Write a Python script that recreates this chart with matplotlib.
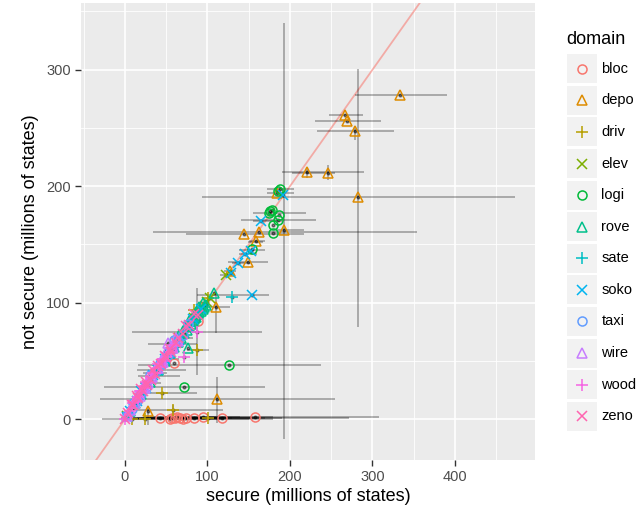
import matplotlib
matplotlib.use("Agg")
import matplotlib.pyplot as plt
from matplotlib.patches import Rectangle

plt.rcParams['font.family'] = ['Liberation Sans', 'DejaVu Sans']

# domain order as in the legend
domains = ['bloc', 'depo', 'driv', 'elev', 'logi', 'rove',
           'sate', 'soko', 'taxi', 'wire', 'wood', 'zeno']

# secure / not secure, millions of states
sec = {}
nsec = {}
sec['bloc'] = [42, 54, 57, 61, 63, 67, 70, 74, 84, 95, 118, 158, 60, 89]
nsec['bloc'] = [1, 0.5, 1, 1, 1.5, 1, 0.5, 1, 1, 2, 1, 2, 48, 84]
sec['depo'] = [333, 267, 269.5, 278.4, 220.6, 246.5, 282, 144.6, 162, 193,
               158.8, 149.5, 183.8, 127, 110, 111, 28.3, 92]
nsec['depo'] = [278, 261, 256.3, 247.7, 212, 211, 190.5, 158.8, 160.5, 162.5,
                153.3, 135.3, 194.5, 127.6, 96.7, 17.4, 7.4, 97]
sec['driv'] = [87, 44.4, 58.6, 24, 101, 8, 101, 33, 84]
nsec['driv'] = [59.5, 22.3, 8, 0.5, 0.9, 0.5, 104.4, 36, 94]
sec['elev'] = [123, 100, 103, 3, 40, 84, 66]
nsec['elev'] = [124, 101, 104, 3, 42, 87, 70]
sec['logi'] = [188, 176, 174, 178, 186.7, 185.9, 179, 179, 153.5, 126, 71.5, 186]
nsec['logi'] = [197.7, 179, 177, 180, 175, 170.8, 166.8, 159.7, 146, 46.6, 27.7, 196]
sec['rove'] = [107.9, 76.8, 98, 96, 94, 92, 90, 88, 86, 84, 82, 80, 78, 75,
               72, 68, 64, 60, 55, 48, 40, 30, 20, 12, 6,
               62, 66, 70, 74, 78, 82, 86, 90, 94, 58, 50, 45]
nsec['rove'] = [108.1, 61, 98, 96, 95, 93, 92, 90, 88, 86, 84, 82, 80, 77,
                74, 70, 66, 62, 57, 50, 42, 32, 22, 14, 7,
                66, 72, 76, 80, 84, 88, 92, 96, 100, 62, 56, 50]
sec['sate'] = [129.3, 4, 14, 62, 82]
nsec['sate'] = [105.2, 5, 15, 64, 84]
sec['soko'] = [191, 164.8, 152.4, 145.5, 137.4, 128, 153.5, 2, 6, 15, 25,
               40, 55, 66, 76, 92, 20, 34, 48, 62, 82]
nsec['soko'] = [192.5, 170, 144.7, 141.9, 133.9, 125.3, 106.7, 2, 7, 16, 27,
                42, 57, 68, 79, 95, 24, 38, 52, 66, 86]
sec['taxi'] = [3, 8, 14, 20, 26, 32, 38, 45, 52, 58, 64, 70,
               10, 18, 30, 42, 60, 76]
nsec['taxi'] = [4, 9, 16, 22, 28, 35, 41, 47, 55, 60, 67, 72,
                14, 22, 38, 48, 68, 82]
sec['wire'] = [2, 6, 12, 18, 24, 28, 33, 40, 46, 51.7, 58, 64,
               14, 22, 30, 38, 44, 50, 56, 62]
nsec['wire'] = [3, 8, 14, 20, 27, 31, 36, 44, 49, 65.2, 61, 67,
                20, 28, 36, 44, 50, 58, 62, 70]
sec['wood'] = [0, 6, 12, 16, 20, 24, 28, 32, 36, 42, 48, 71.5, 87, 56, 62,
               10, 18, 26, 34, 40, 46, 52, 58]
nsec['wood'] = [0, 7, 15, 19, 24, 27, 31, 36, 40, 45, 50, 53.2, 75.2, 58, 64,
                14, 24, 32, 40, 47, 52, 56, 64]
sec['zeno'] = [0, 4, 10, 16, 22, 27, 31, 36, 44, 50, 56, 62, 70, 78, 88.9,
               8, 14, 20, 26, 34, 40, 48, 54, 64, 74, 84]
nsec['zeno'] = [0, 5, 12, 18, 24, 29, 34, 39, 47, 53, 58, 65, 73, 81, 89.5,
                12, 20, 26, 32, 42, 46, 54, 60, 70, 80, 90]

# horizontal error bars: not-secure value, secure low, secure high
hbar_y = [278, 190.5, 261, 256.3, 247.7, 212, 211, 158.8, 160.5, 162.5,
          153.3, 135.3, 194.5, 197.7, 176.8, 171, 170, 145.3, 152.5, 106.7,
          96.7, 17.4, 46.6, 27.7, 75.2, 64.4, 59.5, 42.3, 40, 37, 22.3, 8,
          127, 124, 141.9, 133.9, 31, 52, 70, 88,
          1, 0.5, 1, 1, 1.5, 1, 0.5, 1, 1, 2, 1, 2, 0, 0.5, 1, 1.5]
hbar_lo = [279, 93, 247.6, 230, 233, 190, 203, 74, 34, 183,
           150, 125, 172, 172, 155, 141, 155, 138.6, 149, 87,
           88, -30, 16, -26, 8, 28, 74.7, 14, 22, 16, 22, 10,
           120, 115, 138, 130, 18, 40, 60, 78,
           -5, 5, 20, 10, 30, -3, 40, 30, 60, 50, 80, 100, -28, 0, 15, 25]
hbar_hi = [390, 473, 289, 310, 326, 290, 254, 217, 354, 217,
           170, 173, 205, 205, 220, 231, 190, 170, 167, 175,
           127, 254.5, 238, 170, 166, 87, 102, 74, 51, 67, 87, 119,
           135, 132, 160, 152, 44, 66, 82, 96,
           100, 120, 90, 130, 110, 160, 150, 120, 190, 180, 272, 308, 60, 180, 170, 140]

# vertical error bars: secure value, not-secure low, not-secure high
vbar_x = [193, 282, 278.4, 246.5, 220.6, 110, 111, 87, 28.3, 58.6]
vbar_lo = [-17, 79.5, 240, 205, 207, 74, -3.4, 38, -5, 0]
vbar_hi = [340, 300.7, 252, 218, 216, 108, 36.6, 112.5, 11, 12]

colors = ['#F8766D', '#DE8C00', '#B79F00', '#7CAE00', '#00BA38', '#00C08B',
          '#00BFC4', '#00B4F0', '#619CFF', '#C77CFF', '#F564E3', '#FF64B0']
markers = ['o', '^', '+', 'x'] * 3
msizes = {'o': 6.5, '^': 7.5, '+': 8.5, 'x': 6.5}

W, H = 641, 516
fig = plt.figure(figsize=(W / 100, H / 100), dpi=100)
ax = fig.add_axes([80.7 / W, 1 - 460 / H, (535 - 80.7) / W, (460 - 3.3) / H])
ax.set_facecolor('#EBEBEB')

xlim = (-53.7, 497)
ylim = (-35, 357)
ax.set_xlim(xlim)
ax.set_ylim(ylim)

# ggplot style grid
for v in [-50, 50, 150, 250, 350, 450]:
    ax.axvline(v, color='white', lw=0.6, zorder=0)
for v in [50, 150, 250, 350]:
    ax.axhline(v, color='white', lw=0.6, zorder=0)
for v in [0, 100, 200, 300, 400]:
    ax.axvline(v, color='white', lw=1.2, zorder=0)
for v in [0, 100, 200, 300]:
    ax.axhline(v, color='white', lw=1.2, zorder=0)

# y = x reference
ax.plot([-100, 600], [-100, 600], color='#F8766D', alpha=0.55, lw=1.3, zorder=1)

ax.hlines(hbar_y, hbar_lo, hbar_hi, color='black', alpha=0.3, lw=1.3, zorder=2)
ax.vlines(vbar_x, vbar_lo, vbar_hi, color='black', alpha=0.3, lw=1.3, zorder=2)

for d, c, m in zip(domains, colors, markers):
    ax.plot(sec[d], nsec[d], linestyle='none', marker='o', ms=2,
            color='black', alpha=0.45, zorder=3)
    if m in ('o', '^'):
        ax.plot(sec[d], nsec[d], linestyle='none', marker=m, ms=msizes[m],
                mfc='none', mec=c, mew=1.1, zorder=4)
    else:
        ax.plot(sec[d], nsec[d], linestyle='none', marker=m, ms=msizes[m],
                color=c, mew=1.1, zorder=4)

ax.set_xticks([0, 100, 200, 300, 400])
ax.set_yticks([0, 100, 200, 300])
ax.tick_params(length=4, width=1, color='#333333', labelcolor='#4D4D4D',
               labelsize=10.5, pad=3)
for s in ax.spines.values():
    s.set_visible(False)
ax.set_xlabel('secure (millions of states)', fontsize=13, color='black', labelpad=3)
ax.set_ylabel('not secure (millions of states)', fontsize=13, color='black', labelpad=5)

# legend drawn in pixel coordinates
lax = fig.add_axes([0, 0, 1, 1], zorder=5)
lax.set_xlim(0, W)
lax.set_ylim(H, 0)
lax.axis('off')
lax.text(566, 39, 'domain', fontsize=13, va='center', ha='left')
for i, (d, c, m) in enumerate(zip(domains, colors, markers)):
    top = 54.3 + i * 31.58
    lax.add_patch(Rectangle((567.3, top), 29.4, 29, facecolor='#F2F2F2',
                            edgecolor='none'))
    cy = top + 14.5
    if m in ('o', '^'):
        lax.plot([582], [cy], marker=m, ms=msizes[m], mfc='none', mec=c, mew=1.1)
    else:
        lax.plot([582], [cy], marker=m, ms=msizes[m], color=c, mew=1.1)
    lax.text(601.5, cy, d, fontsize=10.5, va='center', ha='left')

fig.savefig('out.png', dpi=100, facecolor='white')
